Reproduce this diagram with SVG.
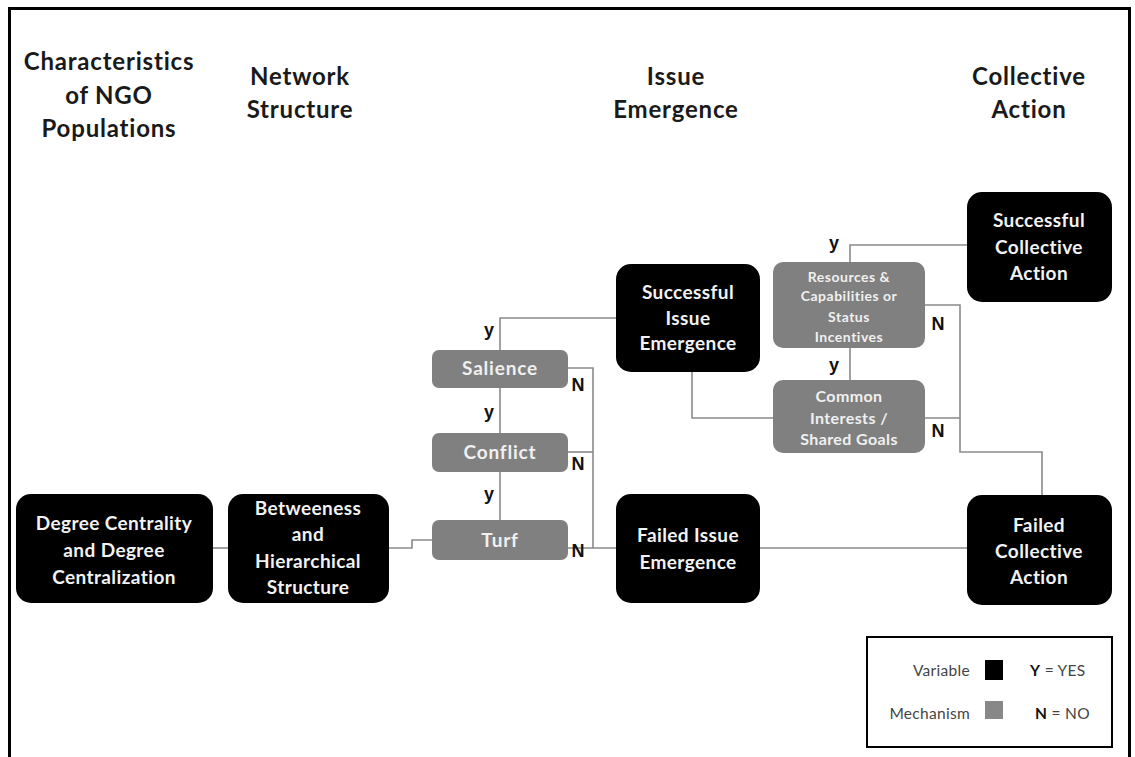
<svg xmlns="http://www.w3.org/2000/svg" width="1135" height="757" viewBox="0 0 1135 757">
  <style>
    .head { font-family: Lato, "Open Sans", "Liberation Sans", sans-serif; font-weight: 700; font-size: 24px; letter-spacing: 0.8px; fill: #1a1a1a; text-anchor: middle; }
    .var rect { fill: #000; }
    .var text { font-family: Lato, "Open Sans", "Liberation Sans", sans-serif; font-weight: 700; font-size: 19px; letter-spacing: 0.4px; fill: #f2f2f2; text-anchor: middle; }
    .mech rect { fill: #808080; }
    .mech text { font-family: Lato, "Open Sans", "Liberation Sans", sans-serif; font-weight: 700; font-size: 19px; letter-spacing: 0.8px; fill: #f0f0f0; text-anchor: middle; }
    .mech text.small { font-size: 14px; letter-spacing: 0.5px; }
    .mech text.mid { font-size: 16px; letter-spacing: 0.4px; }
    .edge { fill: none; stroke: #8a8a8a; stroke-width: 1.6; }
    .yn { font-family: "Liberation Sans", Arial, sans-serif; font-weight: 700; font-size: 18px; fill: #111; text-anchor: middle; }
    .leg { font-family: Lato, "Open Sans", "Liberation Sans", sans-serif; font-size: 15.5px; letter-spacing: 0.3px; fill: #444; }
  </style>

  <!-- frame -->
  <path d="M9.5 757 V8.5 H1129.5 V757" fill="none" stroke="#000" stroke-width="3"/>

  <!-- column headings -->
  <g id="headings">
    <text class="head" x="109" y="70">Characteristics</text>
    <text class="head" x="109" y="104">of NGO</text>
    <text class="head" x="109" y="137">Populations</text>
    <text class="head" x="300" y="85">Network</text>
    <text class="head" x="300" y="118">Structure</text>
    <text class="head" x="676" y="85">Issue</text>
    <text class="head" x="676" y="118">Emergence</text>
    <text class="head" x="1029" y="85">Collective</text>
    <text class="head" x="1029" y="118">Action</text>
  </g>

  <!-- connectors -->
  <g id="connectors">
    <path class="edge" d="M213 548 H228"/>
    <path class="edge" d="M388 548 H412 V540 H432"/>
    <path class="edge" d="M500 350 V318 H616"/>
    <path class="edge" d="M500 388 V433"/>
    <path class="edge" d="M500 472 V520"/>
    <path class="edge" d="M568 368 H593 V548"/>
    <path class="edge" d="M568 452 H593"/>
    <path class="edge" d="M568 548 H616"/>
    <path class="edge" d="M692 372 V418 H773"/>
    <path class="edge" d="M850 262 V245 H967"/>
    <path class="edge" d="M850 348 V380"/>
    <path class="edge" d="M925 305 H960 V452 H1042 V495"/>
    <path class="edge" d="M925 418 H960"/>
    <path class="edge" d="M760 548 H967"/>
    <text class="yn" x="489" y="336">y</text>
    <text class="yn" x="489" y="418">y</text>
    <text class="yn" x="489" y="500">y</text>
    <text class="yn" x="578" y="391">N</text>
    <text class="yn" x="578" y="470">N</text>
    <text class="yn" x="578" y="557">N</text>
    <text class="yn" x="834" y="249">y</text>
    <text class="yn" x="834" y="371">y</text>
    <text class="yn" x="938" y="330">N</text>
    <text class="yn" x="938" y="437">N</text>
  </g>

  <!-- variables -->
  <g id="degree" class="var">
    <rect x="16" y="494" width="197" height="109" rx="15"/>
    <text x="114" y="530">Degree Centrality</text>
    <text x="114" y="557">and Degree</text>
    <text x="114" y="584">Centralization</text>
  </g>
  <g id="betweeness" class="var">
    <rect x="228" y="494" width="161" height="109" rx="15"/>
    <text x="308" y="515">Betweeness</text>
    <text x="308" y="541">and</text>
    <text x="308" y="568">Hierarchical</text>
    <text x="308" y="594">Structure</text>
  </g>
  <g id="success-issue" class="var">
    <rect x="616" y="264" width="144" height="108" rx="15"/>
    <text x="688" y="299">Successful</text>
    <text x="688" y="325">Issue</text>
    <text x="688" y="350">Emergence</text>
  </g>
  <g id="failed-issue" class="var">
    <rect x="616" y="494" width="144" height="109" rx="15"/>
    <text x="688" y="542">Failed Issue</text>
    <text x="688" y="569">Emergence</text>
  </g>
  <g id="success-action" class="var">
    <rect x="967" y="192" width="145" height="110" rx="15"/>
    <text x="1039" y="227">Successful</text>
    <text x="1039" y="254">Collective</text>
    <text x="1039" y="280">Action</text>
  </g>
  <g id="failed-action" class="var">
    <rect x="967" y="495" width="145" height="110" rx="15"/>
    <text x="1039" y="532">Failed</text>
    <text x="1039" y="558">Collective</text>
    <text x="1039" y="584">Action</text>
  </g>

  <!-- mechanisms -->
  <g id="salience" class="mech">
    <rect x="432" y="350" width="136" height="38" rx="7"/>
    <text x="500" y="375">Salience</text>
  </g>
  <g id="conflict" class="mech">
    <rect x="432" y="433" width="136" height="39" rx="7"/>
    <text x="500" y="459">Conflict</text>
  </g>
  <g id="turf" class="mech">
    <rect x="432" y="520" width="136" height="40" rx="7"/>
    <text x="500" y="547">Turf</text>
  </g>
  <g id="resources" class="mech">
    <rect x="773" y="262" width="152" height="86" rx="10"/>
    <text class="small" x="849" y="282">Resources &amp;</text>
    <text class="small" x="849" y="301">Capabilities or</text>
    <text class="small" x="849" y="322">Status</text>
    <text class="small" x="849" y="342">Incentives</text>
  </g>
  <g id="common-interests" class="mech">
    <rect x="773" y="380" width="152" height="73" rx="10"/>
    <text class="mid" x="849" y="402">Common</text>
    <text class="mid" x="849" y="424">Interests /</text>
    <text class="mid" x="849" y="445">Shared Goals</text>
  </g>

  <!-- key -->
  <g id="legend">
    <rect x="867" y="637" width="245" height="110" fill="#fff" stroke="#000" stroke-width="2"/>
    <text class="leg" x="970" y="676" text-anchor="end">Variable</text>
    <rect x="985" y="660" width="18" height="20" fill="#000"/>
    <text class="leg" x="1030" y="676"><tspan font-weight="700" fill="#111">Y</tspan> = YES</text>
    <text class="leg" x="970" y="719" text-anchor="end">Mechanism</text>
    <rect x="985" y="701" width="18" height="18" fill="#888"/>
    <text class="leg" x="1035" y="719"><tspan font-weight="700" fill="#111">N</tspan> = NO</text>
  </g>
</svg>
